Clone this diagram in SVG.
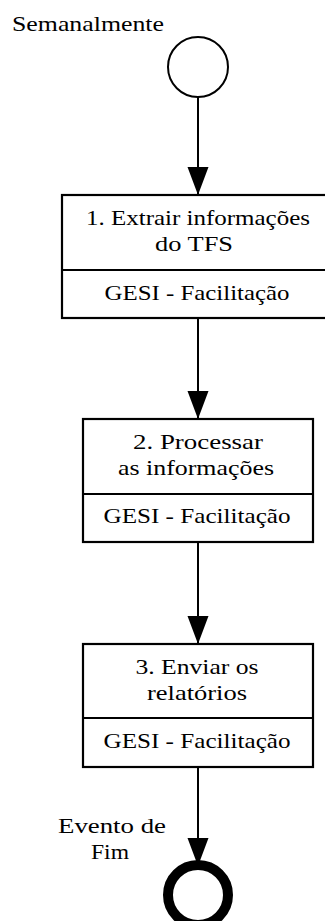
<svg xmlns="http://www.w3.org/2000/svg" width="325" height="921" viewBox="0 0 325 921">
<style>
text{font-family:"Liberation Serif","Times New Roman",serif;font-size:21px;fill:#000;text-anchor:middle}
.box{fill:#fff;stroke:#000;stroke-width:2.2}
.div{stroke:#000;stroke-width:2.2}
.conn{stroke:#000;stroke-width:2;fill:none}
</style>
<defs>
<marker id="arr" markerUnits="userSpaceOnUse" markerWidth="28" markerHeight="22" refX="28" refY="11" orient="auto">
<path d="M0,0.5 L28,11 L0,21.5 z" fill="#000"/>
</marker>
</defs>
<rect width="325" height="921" fill="#fff"/>
<g id="connectors">
<line class="conn" x1="198" y1="97" x2="198" y2="195" marker-end="url(#arr)"/>
<line class="conn" x1="198" y1="318" x2="198" y2="419" marker-end="url(#arr)"/>
<line class="conn" x1="198" y1="542" x2="198" y2="644" marker-end="url(#arr)"/>
<line class="conn" x1="198" y1="767" x2="198" y2="866" marker-end="url(#arr)"/>
</g>
<g id="start">
<circle cx="198" cy="67" r="30" fill="#fff" stroke="#000" stroke-width="2"/>
<text x="88" y="31" font-size="23" textLength="152" lengthAdjust="spacingAndGlyphs">Semanalmente</text>
</g>
<g id="task1">
<rect class="box" x="62" y="195" width="272" height="123"/>
<line class="div" x1="62" y1="270" x2="334" y2="270"/>
<text x="198" y="225" textLength="224" lengthAdjust="spacingAndGlyphs">1. Extrair informações</text>
<text x="194" y="251" textLength="78" lengthAdjust="spacingAndGlyphs">do TFS</text>
<text x="197" y="300" textLength="185" lengthAdjust="spacingAndGlyphs">GESI - Facilitação</text>
</g>
<g id="task2">
<rect class="box" x="83" y="419" width="230" height="123"/>
<line class="div" x1="83" y1="494" x2="313" y2="494"/>
<text x="198" y="449" textLength="130" lengthAdjust="spacingAndGlyphs">2. Processar</text>
<text x="196" y="475" textLength="156" lengthAdjust="spacingAndGlyphs">as informações</text>
<text x="197" y="523" textLength="187" lengthAdjust="spacingAndGlyphs">GESI - Facilitação</text>
</g>
<g id="task3">
<rect class="box" x="83" y="644" width="230" height="123"/>
<line class="div" x1="83" y1="718" x2="313" y2="718"/>
<text x="197" y="674" textLength="123" lengthAdjust="spacingAndGlyphs">3. Enviar os</text>
<text x="197" y="700" textLength="100" lengthAdjust="spacingAndGlyphs">relatórios</text>
<text x="197" y="748" textLength="187" lengthAdjust="spacingAndGlyphs">GESI - Facilitação</text>
</g>
<g id="end">
<circle cx="198" cy="895" r="30" fill="#fff" stroke="#000" stroke-width="10"/>
<text x="112" y="833" textLength="108" lengthAdjust="spacingAndGlyphs">Evento de</text>
<text x="110" y="859" textLength="38" lengthAdjust="spacingAndGlyphs">Fim</text>
</g>
</svg>
